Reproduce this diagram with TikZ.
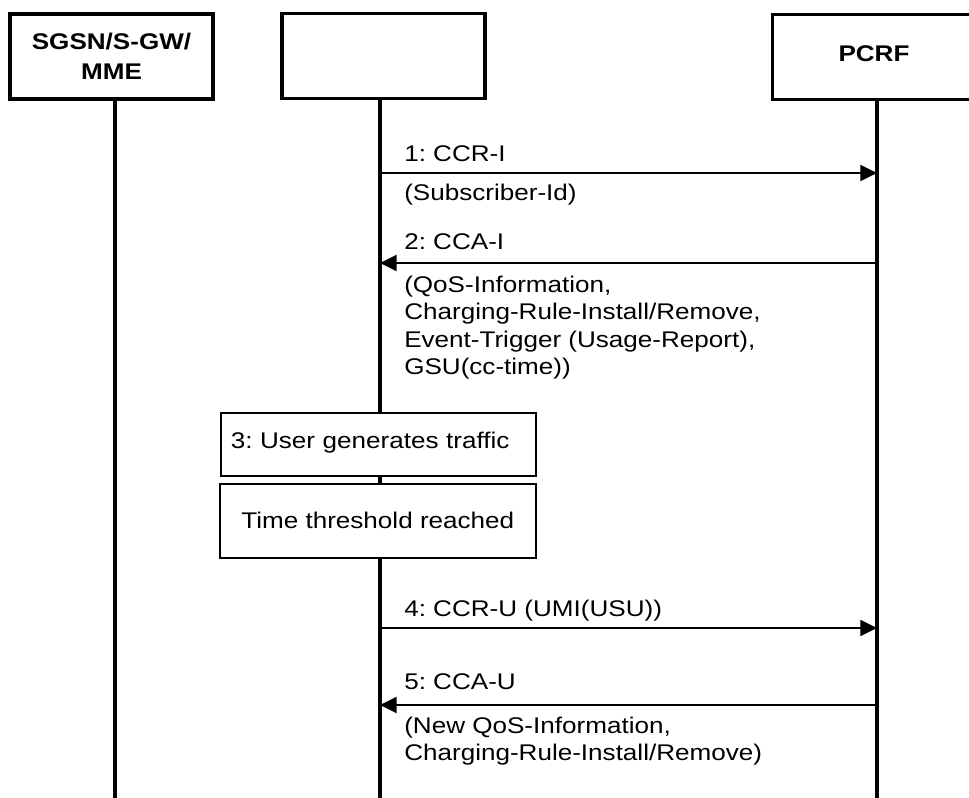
\documentclass[tikz,border=0pt]{standalone}
\usepackage{fontspec}
\setmainfont{Liberation Sans}[FakeStretch=1.15]
\usetikzlibrary{arrows.meta}
\begin{document}
\frenchspacing
\begin{tikzpicture}[x=0.75pt,y=-0.75pt,
  font=\fontsize{17}{20.5}\selectfont,
  ent/.style={draw, line width=2.6pt, minimum width=152pt, minimum height=64pt,
    font=\bfseries\fontsize{17}{22.5}\selectfont, align=center, inner sep=0pt},
  life/.style={line width=2.5pt},
  msg/.style={line width=1.6pt, -{Triangle[length=12.5pt,width=12pt]}},
  note/.style={draw, fill=white, line width=1.2pt, minimum width=236.25pt, inner xsep=7.5pt, inner ysep=0pt},
  lbl/.style={anchor=west, inner sep=0pt, align=left}]
\useasboundingbox (0,0) rectangle (969,798);
\clip (0,0) rectangle (969,798);
% entities
\node[ent] (sgsn) at (111.5,56.5) {SGSN/S-GW/\\MME};
\node[ent] (af) at (383.5,56) {};
\node[ent] (pcrf) at (874,57) {\raisebox{5pt}{PCRF}};
% lifelines
\coordinate (sgsnb) at (115,798);
\coordinate (afb) at (380,798);
\coordinate (pcrfb) at (877,798);
\draw[life] (sgsn.south -| sgsnb) -- (sgsnb);
\draw[life] (af.south -| afb) -- (afb);
\draw[life] (pcrf.south -| pcrfb) -- (pcrfb);
% message 1
\coordinate (a1) at (380,173); \coordinate (p1) at (877,173);
\draw[msg] (a1) -- (p1);
\node[lbl] (l1) at (404,154) {1: CCR-I};
\node[lbl] (l1b) at (404,195) {(Subscriber-Id)};
% message 2
\coordinate (a2) at (380,263); \coordinate (p2) at (877,263);
\draw[msg] (p2) -- (a2);
\node[lbl] (l2) at (404,242) {2: CCA-I};
\node[lbl] (l2b) at (404,327.5) {(QoS-Information,\\Charging-Rule-Install/Remove,\\Event-Trigger (Usage-Report),\\GSU(cc-time))};
% notes
\node[note, anchor=north west, minimum height=47.25pt, text width=221.25pt, align=left] (n3) at (220,412) {\raisebox{6pt}{3: User generates traffic}};
\node[note, anchor=north west, minimum height=55.5pt, minimum width=237pt, align=center] (n4) at (219,483) {Time threshold reached};
% message 4
\coordinate (a4) at (380,628); \coordinate (p4) at (877,628);
\draw[msg] (a4) -- (p4);
\node[lbl] (l4) at (404,611) {4: CCR-U (UMI(USU))};
% message 5
\coordinate (a5) at (380,705); \coordinate (p5) at (877,705);
\draw[msg] (p5) -- (a5);
\node[lbl] (l5) at (404,682) {5: CCA-U};
\node[lbl] (l5b) at (404,741) {(New QoS-Information,\\Charging-Rule-Install/Remove)};
\end{tikzpicture}
\end{document}
